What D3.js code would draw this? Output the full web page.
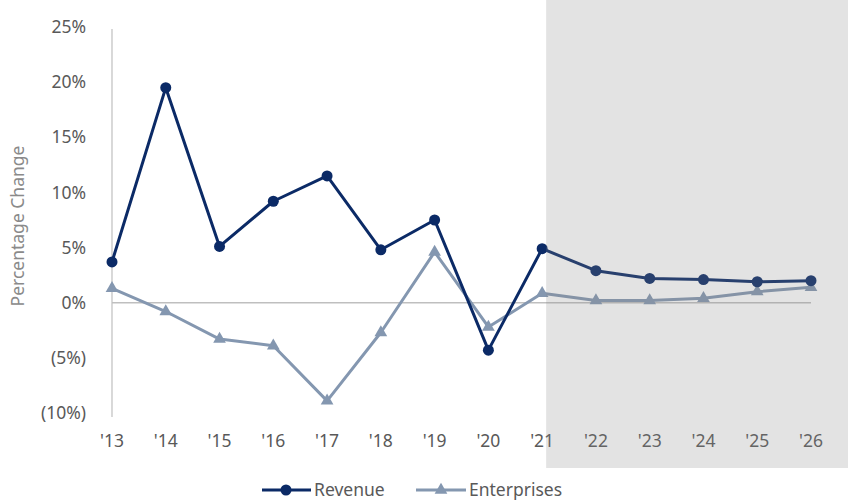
<!DOCTYPE html>
<html>
<head>
<meta charset="utf-8">
<script src="https://cdn.jsdelivr.net/npm/d3@7/dist/d3.min.js"></script>
<style>
  html, body { margin: 0; padding: 0; background: #fff; }
  svg { display: block; }
  text { font-family: "Noto Sans", "Open Sans", sans-serif; }
</style>
</head>
<body>
<svg id="chart" width="851" height="504"></svg>
<script>
// Year-over-year percentage change
const years = ["'13", "'14", "'15", "'16", "'17", "'18", "'19", "'20", "'21", "'22", "'23", "'24", "'25", "'26"];
const revenue = [3.7, 19.5, 5.1, 9.2, 11.5, 4.8, 7.5, -4.3, 4.9, 2.9, 2.2, 2.1, 1.9, 2.0];
const enterprises = [1.3, -0.8, -3.3, -3.9, -8.9, -2.7, 4.6, -2.2, 0.85, 0.2, 0.2, 0.4, 1.0, 1.4];
const yTicks = [25, 20, 15, 10, 5, 0, -5, -10];
const forecastStart = "'21";

const svg = d3.select("#chart");
const FS = 17.5;

const x = d3.scalePoint().domain(years).range([112, 811]);
const y = d3.scaleLinear().domain([-10, 25]).range([413, 27]);

const navy = "#0b2a66";
const steel = "#8497b0";

// y axis line
svg.append("line")
  .attr("x1", x(years[0])).attr("x2", x(years[0]))
  .attr("y1", y(25) + 2).attr("y2", y(-10) + 4)
  .attr("stroke", "#bfbfbf").attr("stroke-width", 1.2);

// zero baseline
svg.append("line")
  .attr("x1", x(years[0])).attr("x2", x(years[years.length - 1]))
  .attr("y1", y(0)).attr("y2", y(0))
  .attr("stroke", "#bfbfbf").attr("stroke-width", 1.5);

// y tick labels
const fmt = v => v < 0 ? `(${Math.abs(v)}%)` : `${v}%`;
svg.append("g").selectAll("text").data(yTicks).join("text")
  .attr("x", 86).attr("y", d => y(d))
  .attr("dy", "0.35em")
  .attr("text-anchor", "end")
  .attr("font-size", FS)
  .attr("fill", "#595959")
  .text(fmt);

// x tick labels
svg.append("g").selectAll("text").data(years).join("text")
  .attr("x", d => x(d)).attr("y", 441)
  .attr("dy", "0.35em")
  .attr("text-anchor", "middle")
  .attr("font-size", FS)
  .attr("fill", "#595959")
  .text(d => d);

// y axis title
svg.append("text")
  .attr("transform", `translate(24,${y(7.5) + 6}) rotate(-90)`)
  .attr("text-anchor", "middle")
  .attr("font-size", FS)
  .attr("fill", "#8a8a8a")
  .text("Percentage Change");

const line = d3.line().x((d, i) => x(years[i])).y(d => y(d));
const tri = d3.symbol().type(d3.symbolTriangle).size(70);

// Enterprises series
svg.append("path").datum(enterprises)
  .attr("d", line).attr("fill", "none")
  .attr("stroke", steel).attr("stroke-width", 3).attr("stroke-linejoin", "round");
svg.append("g").selectAll("path").data(enterprises).join("path")
  .attr("d", tri)
  .attr("transform", (d, i) => `translate(${x(years[i])},${y(d)})`)
  .attr("fill", steel);

// Revenue series
svg.append("path").datum(revenue)
  .attr("d", line).attr("fill", "none")
  .attr("stroke", navy).attr("stroke-width", 3).attr("stroke-linejoin", "round");
svg.append("g").selectAll("circle").data(revenue).join("circle")
  .attr("cx", (d, i) => x(years[i])).attr("cy", d => y(d))
  .attr("r", 5.5).attr("fill", navy);

// forecast period shading
svg.append("rect")
  .attr("x", x(forecastStart) + 4).attr("y", 0)
  .attr("width", 848 - x(forecastStart) - 4).attr("height", 468)
  .attr("fill", "#8a8a8a").attr("opacity", 0.235);

// legend
const lg = svg.append("g");
lg.append("line").attr("x1", 262).attr("x2", 311).attr("y1", 490).attr("y2", 490)
  .attr("stroke", navy).attr("stroke-width", 3);
lg.append("circle").attr("cx", 286).attr("cy", 490).attr("r", 5.5).attr("fill", navy);
lg.append("text").attr("x", 314).attr("y", 490).attr("dy", "0.35em")
  .attr("font-size", FS).attr("fill", "#595959").text("Revenue");

lg.append("line").attr("x1", 416).attr("x2", 466).attr("y1", 490).attr("y2", 490)
  .attr("stroke", steel).attr("stroke-width", 3);
lg.append("path").attr("d", tri).attr("transform", "translate(441,490)").attr("fill", steel);
lg.append("text").attr("x", 469).attr("y", 490).attr("dy", "0.35em")
  .attr("font-size", FS).attr("fill", "#595959").text("Enterprises");
</script>
</body>
</html>
